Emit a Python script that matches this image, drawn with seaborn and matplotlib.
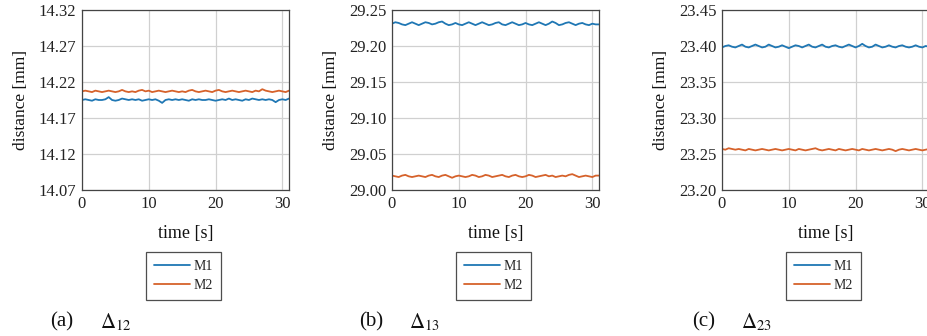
import numpy as np
import pandas as pd
import matplotlib
matplotlib.use("Agg")
import matplotlib.pyplot as plt
import seaborn as sns

TIME = [0, 0.5, 1, 1.5, 2, 2.5, 3, 3.5, 4, 4.5,
        5, 5.5, 6, 6.5, 7, 7.5, 8, 8.5, 9, 9.5,
        10, 10.5, 11, 11.5, 12, 12.5, 13, 13.5, 14, 14.5,
        15, 15.5, 16, 16.5, 17, 17.5, 18, 18.5, 19, 19.5,
        20, 20.5, 21, 21.5, 22, 22.5, 23, 23.5, 24, 24.5,
        25, 25.5, 26, 26.5, 27, 27.5, 28, 28.5, 29, 29.5,
        30, 30.5, 31]

A_M1 = [14.195, 14.196, 14.195, 14.194, 14.196, 14.195, 14.195, 14.196, 14.199, 14.195,
        14.194, 14.195, 14.197, 14.196, 14.195, 14.196, 14.195, 14.196, 14.194, 14.195,
        14.196, 14.195, 14.196, 14.194, 14.191, 14.195, 14.196, 14.195, 14.196, 14.195,
        14.196, 14.195, 14.194, 14.196, 14.195, 14.196, 14.195, 14.195, 14.196, 14.195,
        14.194, 14.195, 14.196, 14.195, 14.197, 14.195, 14.196, 14.195, 14.194, 14.196,
        14.195, 14.197, 14.196, 14.195, 14.196, 14.195, 14.196, 14.195, 14.192, 14.195,
        14.196, 14.195, 14.197]
A_M2 = [14.207, 14.208, 14.207, 14.206, 14.208, 14.207, 14.206, 14.207, 14.208, 14.207,
        14.206, 14.207, 14.209, 14.207, 14.206, 14.207, 14.206, 14.208, 14.209, 14.207,
        14.208, 14.206, 14.207, 14.208, 14.207, 14.206, 14.207, 14.208, 14.207, 14.206,
        14.207, 14.206, 14.208, 14.209, 14.207, 14.206, 14.207, 14.208, 14.207, 14.206,
        14.208, 14.209, 14.207, 14.206, 14.207, 14.208, 14.207, 14.206, 14.207, 14.208,
        14.207, 14.206, 14.208, 14.207, 14.210, 14.208, 14.207, 14.206, 14.207, 14.208,
        14.207, 14.206, 14.208]

B_M1 = [29.231, 29.233, 29.232, 29.230, 29.229, 29.231, 29.233, 29.231, 29.229, 29.231,
        29.233, 29.232, 29.230, 29.231, 29.233, 29.234, 29.231, 29.229, 29.230, 29.232,
        29.230, 29.229, 29.231, 29.233, 29.231, 29.229, 29.231, 29.233, 29.231, 29.229,
        29.230, 29.232, 29.233, 29.230, 29.229, 29.231, 29.233, 29.231, 29.229, 29.230,
        29.232, 29.230, 29.229, 29.231, 29.233, 29.231, 29.229, 29.231, 29.234, 29.232,
        29.229, 29.230, 29.232, 29.233, 29.231, 29.229, 29.231, 29.232, 29.230, 29.229,
        29.231, 29.230, 29.230]
B_M2 = [29.020, 29.019, 29.018, 29.020, 29.021, 29.019, 29.018, 29.019, 29.020, 29.019,
        29.018, 29.020, 29.021, 29.019, 29.018, 29.020, 29.021, 29.019, 29.017, 29.019,
        29.020, 29.019, 29.018, 29.019, 29.021, 29.020, 29.018, 29.019, 29.021, 29.020,
        29.018, 29.019, 29.020, 29.021, 29.019, 29.018, 29.020, 29.021, 29.019, 29.018,
        29.019, 29.021, 29.020, 29.018, 29.019, 29.020, 29.021, 29.019, 29.020, 29.018,
        29.019, 29.020, 29.019, 29.021, 29.022, 29.020, 29.018, 29.019, 29.020, 29.019,
        29.018, 29.020, 29.020]

C_M1 = [23.398, 23.400, 23.401, 23.399, 23.398, 23.400, 23.402, 23.399, 23.398, 23.400,
        23.402, 23.400, 23.398, 23.399, 23.402, 23.400, 23.398, 23.399, 23.401, 23.399,
        23.397, 23.399, 23.401, 23.400, 23.398, 23.400, 23.402, 23.399, 23.398, 23.400,
        23.402, 23.399, 23.398, 23.400, 23.401, 23.399, 23.398, 23.400, 23.402, 23.400,
        23.398, 23.400, 23.403, 23.400, 23.398, 23.399, 23.402, 23.400, 23.398, 23.399,
        23.401, 23.399, 23.398, 23.400, 23.401, 23.399, 23.398, 23.399, 23.401, 23.399,
        23.398, 23.400, 23.399]
C_M2 = [23.257, 23.256, 23.258, 23.257, 23.256, 23.257, 23.256, 23.255, 23.257, 23.256,
        23.255, 23.256, 23.257, 23.256, 23.255, 23.256, 23.257, 23.256, 23.255, 23.256,
        23.257, 23.256, 23.255, 23.257, 23.256, 23.255, 23.256, 23.257, 23.258, 23.256,
        23.255, 23.256, 23.257, 23.256, 23.255, 23.257, 23.256, 23.255, 23.256, 23.257,
        23.256, 23.255, 23.257, 23.256, 23.255, 23.256, 23.257, 23.256, 23.255, 23.256,
        23.257, 23.256, 23.254, 23.256, 23.257, 23.256, 23.255, 23.256, 23.257, 23.256,
        23.255, 23.256, 23.257]

Y_TICKS_A = [14.07, 14.12, 14.17, 14.22, 14.27, 14.32]
Y_TICKS_B = [29.00, 29.05, 29.10, 29.15, 29.20, 29.25]
Y_TICKS_C = [23.20, 23.25, 23.30, 23.35, 23.40, 23.45]
X_TICKS = [0, 10, 20, 30]
SERIES = ["M1", "M2"]
CAPTIONS = ["(a)", "(b)", "(c)"]
SUBS = [r"$\Delta_{12}$", r"$\Delta_{13}$", r"$\Delta_{23}$"]

sns.set_theme(style="whitegrid")
plt.rcParams["font.family"] = ["Liberation Serif", "DejaVu Serif"]
plt.rcParams["mathtext.fontset"] = "stix"

palette = {"M1": "#1f77b4", "M2": "#d6622b"}

fig = plt.figure(figsize=(9.28, 3.36), dpi=100)
lefts = [82 / 928, 392 / 928, 722 / 928]
width = 207 / 928
bottom = 1 - 190 / 336
height = 180 / 336
panels = [(A_M1, A_M2, Y_TICKS_A), (B_M1, B_M2, Y_TICKS_B), (C_M1, C_M2, Y_TICKS_C)]
cap_x = [50 / 928, 359 / 928, 692 / 928]
sub_x = [100 / 928, 409 / 928, 741 / 928]

for i, (m1, m2, yt) in enumerate(panels):
    ax = fig.add_axes([lefts[i], bottom, width, height])
    df = pd.DataFrame({
        "time": TIME + TIME,
        "value": m1 + m2,
        "series": ["M1"] * len(TIME) + ["M2"] * len(TIME),
    })
    sns.lineplot(data=df, x="time", y="value", hue="series", palette=palette,
                 linewidth=1.3, ax=ax, estimator=None)
    ax.set_xlim(0, 31)
    ax.set_ylim(yt[0], yt[-1])
    ax.set_yticks(yt)
    ax.set_yticklabels([f"{v:.2f}" for v in yt])
    ax.set_xticks(X_TICKS)
    ax.grid(True, color="#d0d0d0", linewidth=0.9)
    ax.set_facecolor("white")
    for s in ax.spines.values():
        s.set_color("#444444")
        s.set_linewidth(0.9)
    ax.tick_params(axis="both", length=0, labelsize=12, colors="#222222", pad=4)
    ax.set_xlabel("time [s]", fontsize=13, labelpad=10, color="#111111")
    ax.set_ylabel("distance [mm]", fontsize=12.5, labelpad=7, color="#111111")
    handles, labels = ax.get_legend_handles_labels()
    leg = ax.legend(handles, labels, loc="upper center", bbox_to_anchor=(0.49, -0.345),
                    frameon=True, fancybox=False, edgecolor="#222222", fontsize=10,
                    handlelength=2.6, borderpad=0.55, labelspacing=0.45,
                    handletextpad=0.3, borderaxespad=0)
    leg.get_frame().set_linewidth(0.9)
    fig.text(cap_x[i], 14 / 336, CAPTIONS[i], fontsize=15, color="#111111", va="center")
    fig.text(sub_x[i], 14 / 336, SUBS[i], fontsize=15, color="#111111", va="center")

fig.savefig("out.png", dpi=100, facecolor="white")
